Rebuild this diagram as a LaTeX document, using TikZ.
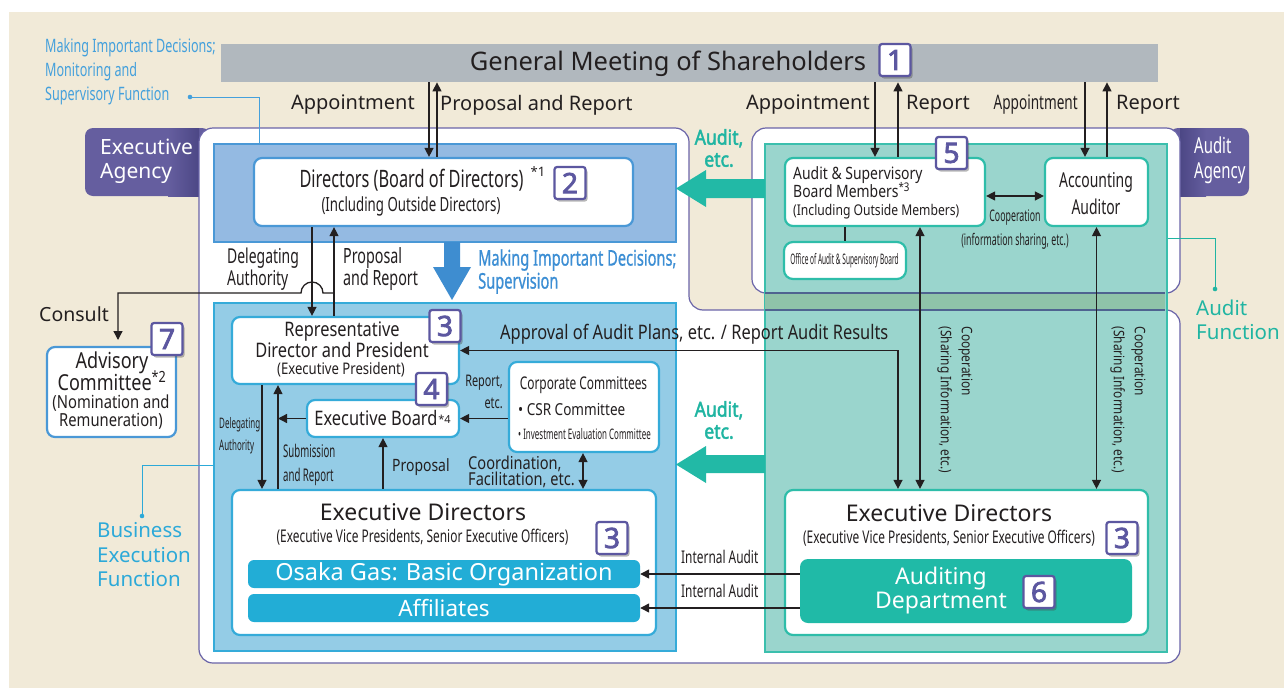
\documentclass[tikz,border=0pt]{standalone}
\usepackage{fontspec}
\setmainfont{Noto Sans}
\newfontfamily\fA{Noto Sans}
\newfontfamily\fAb{Noto Sans}[FakeBold=2.8]
\newfontfamily\fB{Noto Sans}[FakeStretch=0.82]
\newfontfamily\fBb{Noto Sans}[FakeStretch=0.86,FakeBold=2.2]
\newfontfamily\fC{Noto Sans}[FakeStretch=0.68]
\newfontfamily\fCm{Noto Sans}[FakeStretch=0.68,FakeBold=0.8]
\newfontfamily\fD{Noto Sans}[FakeStretch=0.55]
\newfontfamily\fE{Noto Sans}[FakeStretch=0.45]
\usetikzlibrary{arrows.meta,shadows}
\newcommand\fsz[2]{\fontsize{#1}{#2}\selectfont}
\definecolor{beige}{HTML}{F1EAD8}
\definecolor{gmgray}{HTML}{B1B8BE}
\definecolor{ink}{HTML}{231F20}
\definecolor{purp}{HTML}{6A64A8}
\definecolor{tabc}{HTML}{655E9F}
\definecolor{tabdark}{HTML}{4C4785}
\definecolor{badgec}{HTML}{5C57A0}
\definecolor{blueup}{HTML}{94BAE2}
\definecolor{bluebord}{HTML}{4A98D6}
\definecolor{bluelo}{HTML}{94CCE6}
\definecolor{blueb2}{HTML}{35ABD9}
\definecolor{tealfill}{HTML}{9AD5CD}
\definecolor{tealb}{HTML}{3BBFAD}
\definecolor{tealstrip}{HTML}{8FC3A9}
\definecolor{purpteal}{HTML}{4F6390}
\definecolor{tealbord}{HTML}{2EBDA9}
\definecolor{bigblue}{HTML}{3E8DD0}
\definecolor{mblue}{HTML}{3C8ED4}
\definecolor{lblue}{HTML}{44A0DC}
\definecolor{tealtxt}{HTML}{20B5A2}
\definecolor{bizc}{HTML}{2CA9D8}
\definecolor{osakac}{HTML}{22ADD6}
\definecolor{audc}{HTML}{20BAA7}
\definecolor{bigteal}{HTML}{22B9A6}
\begin{document}
\begin{tikzpicture}[x=1pt,y=-1pt,
  every node/.style={inner sep=0pt, text=ink},
  arr/.style={draw=ink, line width=1.3pt, -{Triangle[length=9pt,width=9pt]}},
  arrr/.style={draw=ink, line width=1.3pt, {Triangle[length=9pt,width=9pt]}-{Triangle[length=9pt,width=9pt]}},
  wbox/.style={draw, fill=white, line width=2.2pt, rounded corners=8pt},
  badge/.style={draw=badgec, line width=2.2pt, fill=white, rounded corners=2.5pt,
    minimum width=31pt, minimum height=32pt, text=badgec,
    font=\fAb\fsz{28}{28},
    drop shadow={shadow xshift=2pt, shadow yshift=-2.5pt, opacity=0.4, fill=black!70}},
  lab/.style={align=left, anchor=west}]
\useasboundingbox (0,0) rectangle (1284,688);
\fill[white] (0,0) rectangle (1284,688);
\fill[beige] (9,12) rectangle (1284,688);

% General meeting
\node[fill=gmgray, minimum width=937pt, minimum height=38pt, anchor=north west] (gm) at (221,44) {};
\node[font=\fA\fsz{25.5}{30}] (gmt) at (668,64) {General Meeting of Shareholders};
\node[badge] (b1) at (895,60) {1};

% tabs
\fill[tabc, rounded corners=8pt] (85,128) rectangle (210,196);
\shade[left color=tabc, right color=tabdark] (168,128) rectangle (199,196);
\fill[tabc, rounded corners=8pt] (1170,128) rectangle (1249,196);
\shade[left color=tabdark, right color=tabc] (1180,128) rectangle (1206,196);

% outer purple shapes
\draw[purp, line width=1.2pt, fill=white, rounded corners=14pt] (199,128) -- (689,128) -- (689,310) -- (1180,310) -- (1180,663) -- (199,663) -- cycle;
\draw[purp, line width=1.2pt, fill=white, rounded corners=14pt] (752,128) rectangle (1180,293);

\node[font=\fA\fsz{21}{24}, text=white, lab] (eat) at (100,161) {Executive\\Agency};
\node[font=\fC\fsz{22}{25}, text=white, lab] (aat) at (1194,160.5) {Audit\\Agency};

% big coloured areas
\node[draw=bluebord, line width=2.2pt, fill=blueup, minimum width=462pt, minimum height=98pt, anchor=north west] (upbox) at (213,143) {};
\node[draw=blueb2, line width=2.2pt, fill=bluelo, minimum width=462pt, minimum height=348pt, anchor=north west] (lobox) at (213,302) {};
\node[draw=tealb, line width=2pt, fill=tealfill, minimum width=402pt, minimum height=508pt, anchor=north west] (tcol) at (764,143) {};
\fill[tealstrip] (765,294) rectangle (1165,309);
\draw[purpteal, line width=1.2pt] (765,293) -- (1165,293) (765,310) -- (1165,310);

% big arrows
\fill[bigblue] (444,242) -- (460,242) -- (460,267) -- (471,267) -- (452,300) -- (433,267) -- (444,267) -- cycle;
\fill[bigteal] (765,179) -- (706,179) -- (706,170) -- (676,188.5) -- (706,207) -- (706,198) -- (765,198) -- cycle;
\fill[bigteal] (765,455) -- (706,455) -- (706,446) -- (676,464.5) -- (706,483) -- (706,473) -- (765,473) -- cycle;
\node[font=\fBb\fsz{20.5}{22}, text=tealtxt, align=center] (ae1) at (719,148) {Audit,\\etc.};
\node[font=\fBb\fsz{20.5}{22}, text=tealtxt, align=center] (ae2) at (719,420) {Audit,\\etc.};

% left labels
\node[font=\fC\fsz{18.5}{24}, text=lblue, lab] (mid) at (45,72) {Making Important Decisions;\\Monitoring and\\Supervisory Function};
\coordinate (dot1) at (190,97);
\fill[lblue] (dot1) circle (2.3pt);
\draw[lblue, line width=1pt] (dot1) -- (259,97) -- (259,0 |- upbox.north);
\node[font=\fCm\fsz{21.5}{23}, text=mblue, lab] (mis) at (478,271.5) {Making Important Decisions;\\Supervision};
\node[font=\fA\fsz{20.5}{24.5}, text=bizc, lab] (bef) at (97,555) {Business\\Execution\\Function};
\coordinate (dot2) at (142,516);
\fill[bizc] (dot2) circle (2.3pt);
\draw[bizc, line width=1pt] (lobox.west |- 0,465) -- (142,465) -- (dot2);
\node[font=\fA\fsz{20.5}{24}, text=tealtxt, lab] (af) at (1196,319.5) {Audit\\Function};
\coordinate (dot3) at (1215,289);
\fill[tealtxt] (dot3) circle (2.3pt);
\draw[tealtxt, line width=1pt] (tcol.east |- 0,238) -- (1215,238) -- (dot3);

% labels near general meeting
\node[font=\fA\fsz{20}{20}, anchor=east] (ap1) at (415,105) {Appointment};
\node[font=\fA\fsz{20}{20}, anchor=west] (pr0) at (440,105) {Proposal and Report};
\node[font=\fA\fsz{20}{20}, anchor=east] (ap2) at (870,105) {Appointment};
\node[font=\fA\fsz{20}{20}, anchor=west] (re2) at (906,105) {Report};
\node[font=\fC\fsz{20}{20}, anchor=east] (ap3) at (1078,105) {Appointment};
\node[font=\fA\fsz{20}{20}, anchor=west] (re3) at (1116,105) {Report};

% Directors
\node[wbox, draw=bluebord, minimum width=379pt, minimum height=68pt] (dirs) at (443.5,192) {};
\node[font=\fC\fsz{24}{26}] (dirst) at (411.5,180) {Directors (Board of Directors)};
\node[font=\fA\fsz{13}{13}] (dirsup) at (538,172) {*1};
\node[font=\fC\fsz{19.5}{22}] (dirst2) at (411,206) {(Including Outside Directors)};
\node[badge] (b2) at (570,183) {2};

\node[font=\fC\fsz{20.5}{22}, lab] (dl1) at (227,269) {Delegating\\Authority};
\node[font=\fC\fsz{21}{22}, lab] (pr1) at (343,269) {Proposal\\and Report};
\node[font=\fA\fsz{19.5}{20}, anchor=west] (cons) at (39,314) {Consult};

% Advisory
\node[wbox, draw=bluebord, minimum width=129pt, minimum height=90pt] (adv) at (111.5,392) {};
\node[font=\fB\fsz{22}{19}, align=center] (advt1) at (112,371) {Advisory\\Committee\smash{\textsuperscript{*2}}};
\node[font=\fB\fsz{18}{18}, align=center] (advt2) at (111,412) {(Nomination and\\Remuneration)};
\node[badge] (b7) at (167,339) {7};

% Representative
\node[wbox, draw=blueb2, minimum width=227pt, minimum height=67pt] (rep) at (345.5,350.5) {};
\node[font=\fB\fsz{20}{18}, align=center] (rept) at (342,340) {Representative\\Director and President};
\node[font=\fB\fsz{16}{16}] (rept2) at (341,370) {(Executive President)};

% Executive Board
\node[wbox, draw=blueb2, minimum width=152pt, minimum height=37pt] (eb) at (383,418.5) {};
\node[font=\fB\fsz{20}{20}] (ebt) at (376,418) {Executive Board};
\node[font=\fA\fsz{11}{11}] (ebs) at (444.5,419) {*4};
\node[badge] (b3a) at (445,326) {3};
\node[badge] (b4) at (431.5,389) {4};

% Corporate committees
\node[wbox, draw=blueb2, minimum width=150pt, minimum height=90pt] (cc) at (584,407) {};
\node[font=\fC\fsz{17.5}{18}] (cct1) at (583.5,385) {Corporate Committees};
\node[font=\fB\fsz{16.5}{17}, anchor=west] (cct2) at (518,409) {• CSR Committee};
\node[font=\fD\fsz{14.5}{15}, anchor=west] (cct3) at (518,434) {• Investment Evaluation Committee};
\node[font=\fC\fsz{16}{22}, align=right, anchor=east] (repetc) at (503,392) {Report,\\etc.};

% Executive directors left
\node[wbox, draw=blueb2, minimum width=424pt, minimum height=145pt] (edl) at (444,562.5) {};
\node[font=\fA\fsz{23}{25}] (edlt) at (423,512) {Executive Directors};
\node[font=\fC\fsz{17.5}{18}] (edlt2) at (422.5,537) {(Executive Vice Presidents, Senior Executive Officers)};
\node[badge] (b3b) at (612,538) {3};
\node[fill=osakac, rounded corners=6pt, minimum width=392pt, minimum height=28pt, text=white, font=\fA\fsz{23.5}{24}] (osaka) at (444,574) {Osaka Gas: Basic Organization};
\node[fill=osakac, rounded corners=6pt, minimum width=392pt, minimum height=28pt, text=white, font=\fA\fsz{22.5}{24}] (affil) at (444,608) {Affiliates};

\node[font=\fD\fsz{14.5}{22}, lab] (dl2) at (219,436) {Delegating\\Authority};
\node[font=\fD\fsz{17.5}{24}, lab] (sub) at (283,465) {Submission\\and Report};
\node[font=\fB\fsz{17}{17}, anchor=west] (prop) at (392,467) {Proposal};
\node[font=\fB\fsz{17.8}{16.5}, lab] (coord) at (468,472) {Coordination,\\Facilitation, etc.};
\node[font=\fB\fsz{20}{20}, anchor=west] (appr) at (500,334) {Approval of Audit Plans, etc. / Report Audit Results};

% Audit side
\node[wbox, draw=tealbord, minimum width=200pt, minimum height=68pt] (asb) at (885,192) {};
\node[font=\fB\fsz{17}{18}, lab] (asbt) at (793,182) {Audit \& Supervisory\\Board Members\smash{\textsuperscript{*3}}};
\node[font=\fB\fsz{14.8}{15}, anchor=west] (asbt2) at (793,212) {(Including Outside Members)};
\node[badge] (b5) at (951.5,153) {5};
\node[wbox, draw=tealbord, minimum width=122pt, minimum height=37pt, rounded corners=9pt] (office) at (845,260.5) {};
\node[font=\fE\fsz{14.5}{15}] (offt) at (844.5,261) {Office of Audit \& Supervisory Board};
\node[wbox, draw=tealbord, minimum width=103pt, minimum height=68pt] (acc) at (1096.5,192) {};
\node[font=\fC\fsz{20.5}{27}, align=center] (acct) at (1096,193.5) {Accounting\\Auditor};
\node[font=\fD\fsz{16}{24}, align=center] (coopt) at (1015,230) {Cooperation\\(information sharing, etc.)};

\node[wbox, draw=tealbord, minimum width=363pt, minimum height=145pt] (edr) at (966.5,562.5) {};
\node[font=\fA\fsz{23}{25}] (edrt) at (949,513) {Executive Directors};
\node[font=\fC\fsz{17.5}{18}] (edrt2) at (949,538) {(Executive Vice Presidents, Senior Executive Officers)};
\node[badge] (b3c) at (1122,538) {3};
\node[fill=audc, rounded corners=8pt, minimum width=332pt, minimum height=64pt] (audep) at (966,591) {};
\node[font=\fA\fsz{23}{24}, text=white, align=center] (audt) at (941,591) {Auditing\\Department};
\node[badge] (b6) at (1039,592) {6};
\node[font=\fC\fsz{17.5}{18}, anchor=west] (ia1) at (681,557) {Internal Audit};
\node[font=\fC\fsz{17.5}{18}, anchor=west] (ia2) at (681,591) {Internal Audit};
\node[font=\fB\fsz{14.5}{21}, align=left, rotate=-90] (rc1) at (955,400) {Cooperation\\(Sharing Information, etc.)};
\node[font=\fB\fsz{14.5}{21}, align=left, rotate=-90] (rc2) at (1128,400) {Cooperation\\(Sharing Information, etc.)};

% connectors
\draw[arr] (429,0 |- gm.south) -- (429,0 |- dirs.north);
\draw[arr] (437,0 |- dirs.north) -- (437,0 |- gm.south);
\draw[arr] (875,0 |- gm.south) -- (875,0 |- asb.north);
\draw[arr] (898,0 |- asb.north) -- (898,0 |- gm.south);
\draw[arr] (1085,0 |- gm.south) -- (1085,0 |- acc.north);
\draw[arr] (1107,0 |- acc.north) -- (1107,0 |- gm.south);
\draw[arr] (312,0 |- dirs.south) -- (312,0 |- rep.north);
\draw[arr] (334,0 |- rep.north) -- (334,0 |- dirs.south);
\coordinate (cstart) at (334,293);
\coordinate (cend) at (118,340);
\draw[arr] (cstart) -- (323,293) arc[start angle=0, end angle=-180, radius=11] -- (118,293) -- (cend);
\draw[arr] (262,0 |- rep.south) -- (262,0 |- edl.north);
\draw[arr] (278,0 |- edl.north) -- (278,0 |- rep.south);
\draw[arr] (eb.west) -- (278,0 |- eb.west);
\draw[arr] (cc.west |- eb.east) -- (eb.east);
\draw[arr] (eb.south |- edl.north) -- (eb.south);
\draw[arrr] (583,0 |- cc.south) -- (583,0 |- edl.north);
\draw[arrr] (rep.east) -- (898,0 |- rep.east) -- (898,0 |- edr.north);
\draw[arrr] (920,0 |- asb.south) -- (920,0 |- edr.north);
\draw[arrr] (acc.south) -- (acc.south |- edr.north);
\draw[arrr] (asb.east |- 0,196) -- (acc.west |- 0,196);
\draw[ink, line width=1.3pt] (office.north |- asb.south) -- (office.north);
\draw[arr] (audep.west |- osaka.east) -- (osaka.east);
\draw[arr] (audep.west |- affil.east) -- (affil.east);
\end{tikzpicture}
\end{document}
